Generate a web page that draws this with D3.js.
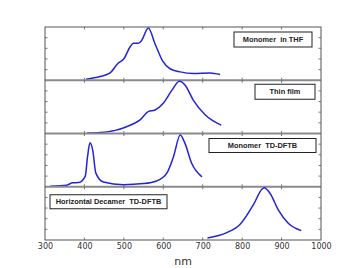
<!DOCTYPE html>
<html>
<head>
<meta charset="utf-8">
<script src="https://cdn.jsdelivr.net/npm/d3@7"></script>
<style>
  body { margin: 0; background: #fff; }
  text { font-family: "Liberation Sans", Arial, sans-serif; }
</style>
</head>
<body>
<script>
//============Stacked spectra=========//
var panelNames = ['Monomer  in THF', 'Thin film', 'Monomer  TD-DFTB', 'Horizontal Decamer  TD-DFTB'];

var thfNm  = [404, 440, 465, 486, 499, 516, 524, 537, 545, 562, 579, 599, 617, 643, 676, 719, 744];
var thfVal = [0.02, 0.07, 0.14, 0.33, 0.40, 0.64, 0.71, 0.71, 0.76, 1.0, 0.70, 0.36, 0.22, 0.16, 0.13, 0.14, 0.11];

var filmNm  = [407, 440, 478, 507, 541, 562, 579, 600, 622, 641, 655, 676, 706, 747];
var filmVal = [0.01, 0.02, 0.06, 0.13, 0.26, 0.42, 0.45, 0.58, 0.83, 1.0, 0.93, 0.64, 0.36, 0.16];

var monoNm  = [313, 355, 370, 385, 402, 408, 414, 421, 429, 448, 499, 550, 583, 609, 626, 643, 655, 672, 698];
var monoVal = [0.01, 0.03, 0.075, 0.08, 0.2, 0.58, 0.84, 0.70, 0.26, 0.09, 0.04, 0.06, 0.11, 0.26, 0.58, 0.99, 0.83, 0.45, 0.19];

var decaNm  = [712, 761, 795, 829, 850, 856, 871, 892, 917, 950];
var decaVal = [0.04, 0.14, 0.30, 0.68, 0.97, 1.0, 0.89, 0.57, 0.32, 0.18];

var xTicks = [300, 400, 500, 600, 700, 800, 900, 1000];
var yTicks = [0.2, 0.4, 0.6, 0.8];

var lineColor = '#2323d8',
  frameColor = '#555',
  sepColor = '#8a8a8a';

// legend boxes, panel-relative px
var legendBoxes = [
  {x: 189, y: 5, w: 78, h: 15},
  {x: 210, y: 4, w: 60, h: 15},
  {x: 164, y: 5, w: 107, h: 14},
  {x: 5, y: 8, w: 117, h: 14}
];

var margin = {top: 27, right: 36, bottom: 28, left: 45},
  width = 357,
  height = 268,
  plotW = width - margin.left - margin.right,
  plotH = height - margin.top - margin.bottom,
  panelH = plotH / 4;

var series = [
  {nm: thfNm, val: thfVal},
  {nm: filmNm, val: filmVal},
  {nm: monoNm, val: monoVal},
  {nm: decaNm, val: decaVal}
];

var x = d3.scaleLinear().domain([300, 1000]).range([0, plotW]);
var y = d3.scaleLinear().domain([0, 1.0]).range([panelH, 1]);

var svg = d3.select('body').append('svg')
  .attr('width', width)
  .attr('height', height)
  .append('g')
  .attr('transform', 'translate(' + margin.left + ',' + margin.top + ')');

var line = d3.line()
  .x(function(d) { return x(d[0]); })
  .y(function(d) { return y(d[1]); })
  .curve(d3.curveMonotoneX);

series.forEach(function(s, i) {
  var g = svg.append('g')
    .attr('transform', 'translate(0,' + (i * panelH) + ')');

  // small inner ticks, all four sides
  var ty = d3.scaleLinear().domain([0, 1]).range([panelH, 0]);
  yTicks.forEach(function(t) {
    g.append('line').attr('x1', 0).attr('x2', 2.5)
      .attr('y1', ty(t)).attr('y2', ty(t))
      .attr('stroke', frameColor).attr('stroke-width', 0.8);
    g.append('line').attr('x1', plotW - 2.5).attr('x2', plotW)
      .attr('y1', ty(t)).attr('y2', ty(t))
      .attr('stroke', frameColor).attr('stroke-width', 0.8);
  });
  xTicks.slice(1, -1).forEach(function(t) {
    g.append('line').attr('x1', x(t)).attr('x2', x(t))
      .attr('y1', 0).attr('y2', 2.5)
      .attr('stroke', frameColor).attr('stroke-width', 0.8);
    g.append('line').attr('x1', x(t)).attr('x2', x(t))
      .attr('y1', panelH - 2.5).attr('y2', panelH)
      .attr('stroke', frameColor).attr('stroke-width', 0.8);
  });

  g.append('path')
    .datum(d3.zip(s.nm, s.val))
    .attr('d', line)
    .attr('fill', 'none')
    .attr('stroke', lineColor)
    .attr('stroke-width', 1.5);

  var lb = legendBoxes[i];
  g.append('rect')
    .attr('x', lb.x).attr('y', lb.y)
    .attr('width', lb.w).attr('height', lb.h)
    .attr('fill', '#fff')
    .attr('stroke', '#222')
    .attr('stroke-width', 1);
  g.append('text')
    .attr('x', lb.x + lb.w / 2)
    .attr('y', lb.y + lb.h / 2 + 2.7)
    .attr('text-anchor', 'middle')
    .style('white-space', 'pre')
    .style('font-size', '7.4px')
    .style('font-weight', 'bold')
    .style('fill', '#222')
    .text(panelNames[i]);

  // separator below each panel
  if (i < 3) {
    svg.append('line')
      .attr('x1', 0).attr('x2', plotW)
      .attr('y1', (i + 1) * panelH).attr('y2', (i + 1) * panelH)
      .attr('stroke', sepColor).attr('stroke-width', 1.8);
  }
});

// outer frame
svg.append('rect')
  .attr('width', plotW).attr('height', plotH)
  .attr('fill', 'none')
  .attr('stroke', frameColor)
  .attr('stroke-width', 1);

// x axis
var xAxis = d3.axisBottom(x).tickValues(xTicks).tickFormat(d3.format('d')).tickSize(0).tickPadding(3);
var ax = svg.append('g')
  .attr('transform', 'translate(0,' + plotH + ')')
  .call(xAxis);
ax.select('.domain').remove();
ax.selectAll('text')
  .style('font-size', '8px')
  .style('fill', '#333')
  .style('font-family', '"DejaVu Sans", sans-serif');

svg.append('text')
  .attr('x', plotW / 2)
  .attr('y', plotH + 25)
  .attr('text-anchor', 'middle')
  .style('font-size', '11px')
  .style('fill', '#333')
  .style('font-family', '"DejaVu Sans", sans-serif')
  .text('nm');
</script>
</body>
</html>
